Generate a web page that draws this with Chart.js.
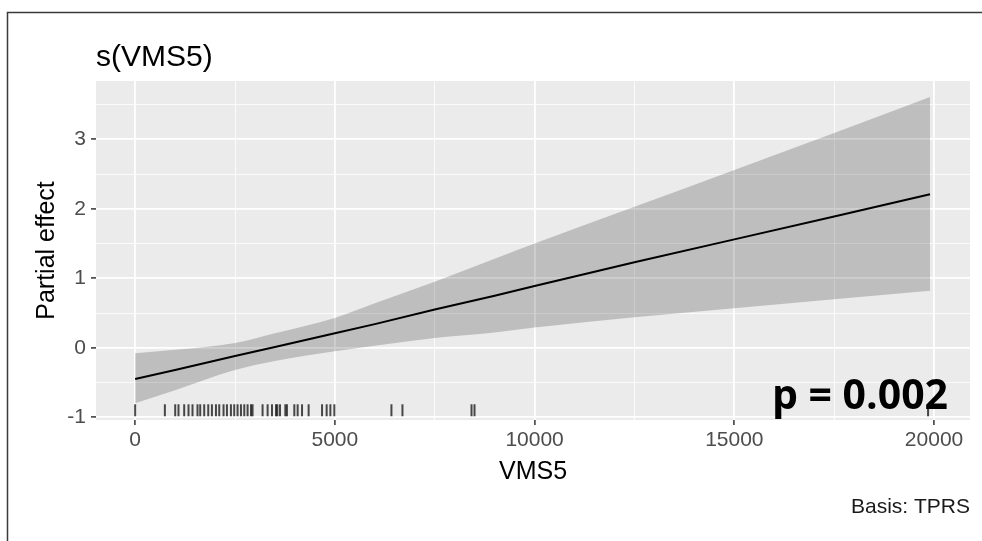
<!DOCTYPE html>
<html>
<head>
<meta charset="utf-8">
<script src="https://cdn.jsdelivr.net/npm/chart.js@4/dist/chart.umd.min.js"></script>
<style>
  html, body { margin: 0; padding: 0; background: #fff; }
  #wrap { width: 982px; height: 541px; }
</style>
</head>
<body>
<div id="wrap"><canvas id="gamChart" width="982" height="541"></canvas></div>
<script>
// smooth term s(VMS5): fitted partial effect with its confidence band
const vmsValues = [0, 1000, 2500, 3500, 5000, 6000, 7500, 9000, 10000, 12500, 15000, 17500, 19900];
const fitValues = [-0.45, -0.32, -0.12, 0.01, 0.21, 0.34, 0.55, 0.75, 0.89, 1.23, 1.56, 1.89, 2.21];
const upperValues = [-0.08, -0.03, 0.07, 0.21, 0.43, 0.64, 0.95, 1.28, 1.50, 2.03, 2.56, 3.09, 3.61];
const lowerValues = [-0.80, -0.61, -0.32, -0.19, -0.05, 0.03, 0.14, 0.22, 0.29, 0.44, 0.57, 0.70, 0.82];

// observed VMS5 values (rug along the bottom)
const rugValues = [0, 744, 1003, 1085, 1228, 1336, 1436, 1561, 1629, 1729, 1830, 1922, 2023, 2105,
  2213, 2298, 2398, 2481, 2564, 2649, 2732, 2815, 2900, 2940, 3190, 3316, 3426, 3526, 3560,
  3627, 3760, 3800, 3985, 4068, 4178, 4343, 4679, 4794, 4887, 4987, 6416, 6692, 8421, 8496, 19850];

const xMajorTicks = [0, 5000, 10000, 15000, 20000];
const xMinorTicks = [2500, 7500, 12500, 17500];
const yMajorTicks = [-1, 0, 1, 2, 3];
const yMinorTicks = [-0.5, 0.5, 1.5, 2.5, 3.5];

const pValueText = "p = 0.002";

const FONT = "'Liberation Sans', Arial, sans-serif";

function toPoints(xs, ys) {
    return xs.map((x, i) => ({ x: x, y: ys[i] }));
}

function setTicks(major, minor) {
    return scale => {
        scale.ticks = major.concat(minor).sort((a, b) => a - b).map(v => ({ value: v }));
    };
}

const ggPanel = {
    id: "ggPanel",
    beforeDraw(chart) {
        const { ctx, chartArea: a } = chart;
        ctx.save();
        ctx.fillStyle = "#fff";
        ctx.fillRect(0, 0, chart.width, chart.height);
        ctx.fillStyle = "#ebebeb";
        ctx.fillRect(a.left, a.top, a.right - a.left, a.bottom - a.top);
        // outer frame of the screenshot
        ctx.strokeStyle = "#3a3a3a";
        ctx.lineWidth = 1.5;
        ctx.beginPath();
        ctx.moveTo(7.5, chart.height);
        ctx.lineTo(7.5, 12.5);
        ctx.lineTo(chart.width, 12.5);
        ctx.stroke();
        ctx.restore();
    },
    afterDatasetsDraw(chart) {
        const { ctx, scales } = chart;
        ctx.save();
        ctx.font = "bold 41px 'Open Sans', sans-serif";
        ctx.fillStyle = "#000";
        ctx.textAlign = "right";
        ctx.textBaseline = "middle";
        ctx.fillText(pValueText, scales.x.getPixelForValue(20350), scales.y.getPixelForValue(-0.72));
        ctx.restore();
    }
};

const ctx = document.getElementById("gamChart").getContext("2d");

new Chart(ctx, {
    type: "line",
    data: {
        datasets: [
            {
                data: toPoints(vmsValues, lowerValues),
                borderWidth: 0,
                borderColor: "rgba(0,0,0,0)",
                pointRadius: 0,
                cubicInterpolationMode: "monotone",
                fill: false
            },
            {
                data: toPoints(vmsValues, upperValues),
                borderWidth: 0,
                borderColor: "rgba(0,0,0,0)",
                backgroundColor: "rgba(0,0,0,0.19)",
                pointRadius: 0,
                cubicInterpolationMode: "monotone",
                fill: "-1"
            },
            {
                data: toPoints(vmsValues, fitValues),
                borderColor: "#000",
                borderWidth: 2,
                pointRadius: 0,
                fill: false
            },
            {
                data: rugValues.map(v => ({ x: v, y: -0.9 })),
                showLine: false,
                pointStyle: "line",
                rotation: 90,
                pointRadius: 6,
                borderColor: "rgba(0,0,0,0.7)",
                borderWidth: 2
            }
        ]
    },
    options: {
        responsive: false,
        animation: false,
        events: [],
        layout: { padding: { left: 28, right: 12, top: 12, bottom: 16.8 } },
        plugins: {
            legend: { display: false },
            tooltip: { enabled: false },
            title: {
                display: true,
                text: "s(VMS5)",
                align: "start",
                fullSize: false,
                color: "#000",
                font: { family: FONT, size: 30, weight: "normal" },
                padding: { top: 28, bottom: 5 }
            },
            subtitle: {
                display: true,
                text: "Basis: TPRS",
                position: "bottom",
                align: "end",
                fullSize: false,
                color: "#1a1a1a",
                font: { family: FONT, size: 21 },
                padding: { top: 6, bottom: 4 }
            }
        },
        scales: {
            x: {
                type: "linear",
                min: -980,
                max: 20900,
                afterBuildTicks: setTicks(xMajorTicks, xMinorTicks),
                afterFit: scale => { scale.height = 69; },
                border: { display: false },
                grid: {
                    color: "#fff",
                    lineWidth: c => xMajorTicks.includes(c.tick.value) ? 1.8 : 0.8,
                    tickLength: 5,
                    tickColor: c => xMajorTicks.includes(c.tick.value) ? "#333" : "rgba(0,0,0,0)",
                    tickWidth: 1.5
                },
                ticks: {
                    autoSkip: false,
                    maxRotation: 0,
                    padding: 3,
                    color: "#4d4d4d",
                    font: { family: FONT, size: 21 },
                    callback: v => xMajorTicks.includes(v) ? String(v) : ""
                },
                title: {
                    display: true,
                    text: "VMS5",
                    color: "#000",
                    font: { family: FONT, size: 25 },
                    padding: { top: 4, bottom: 2 }
                }
            },
            y: {
                min: -1.04,
                max: 3.84,
                afterBuildTicks: setTicks(yMajorTicks, yMinorTicks),
                afterFit: scale => { scale.width = 68; },
                border: { display: false },
                grid: {
                    color: "#fff",
                    lineWidth: c => yMajorTicks.includes(c.tick.value) ? 1.8 : 0.8,
                    tickLength: 5,
                    tickColor: c => yMajorTicks.includes(c.tick.value) ? "#333" : "rgba(0,0,0,0)",
                    tickWidth: 1.5
                },
                ticks: {
                    autoSkip: false,
                    padding: 5,
                    color: "#4d4d4d",
                    font: { family: FONT, size: 21 },
                    callback: v => yMajorTicks.includes(v) ? String(v) : ""
                },
                title: {
                    display: true,
                    text: "Partial effect",
                    color: "#000",
                    font: { family: FONT, size: 25 },
                    padding: { top: 4, bottom: 4 }
                }
            }
        }
    },
    plugins: [ggPanel]
});
</script>
</body>
</html>
